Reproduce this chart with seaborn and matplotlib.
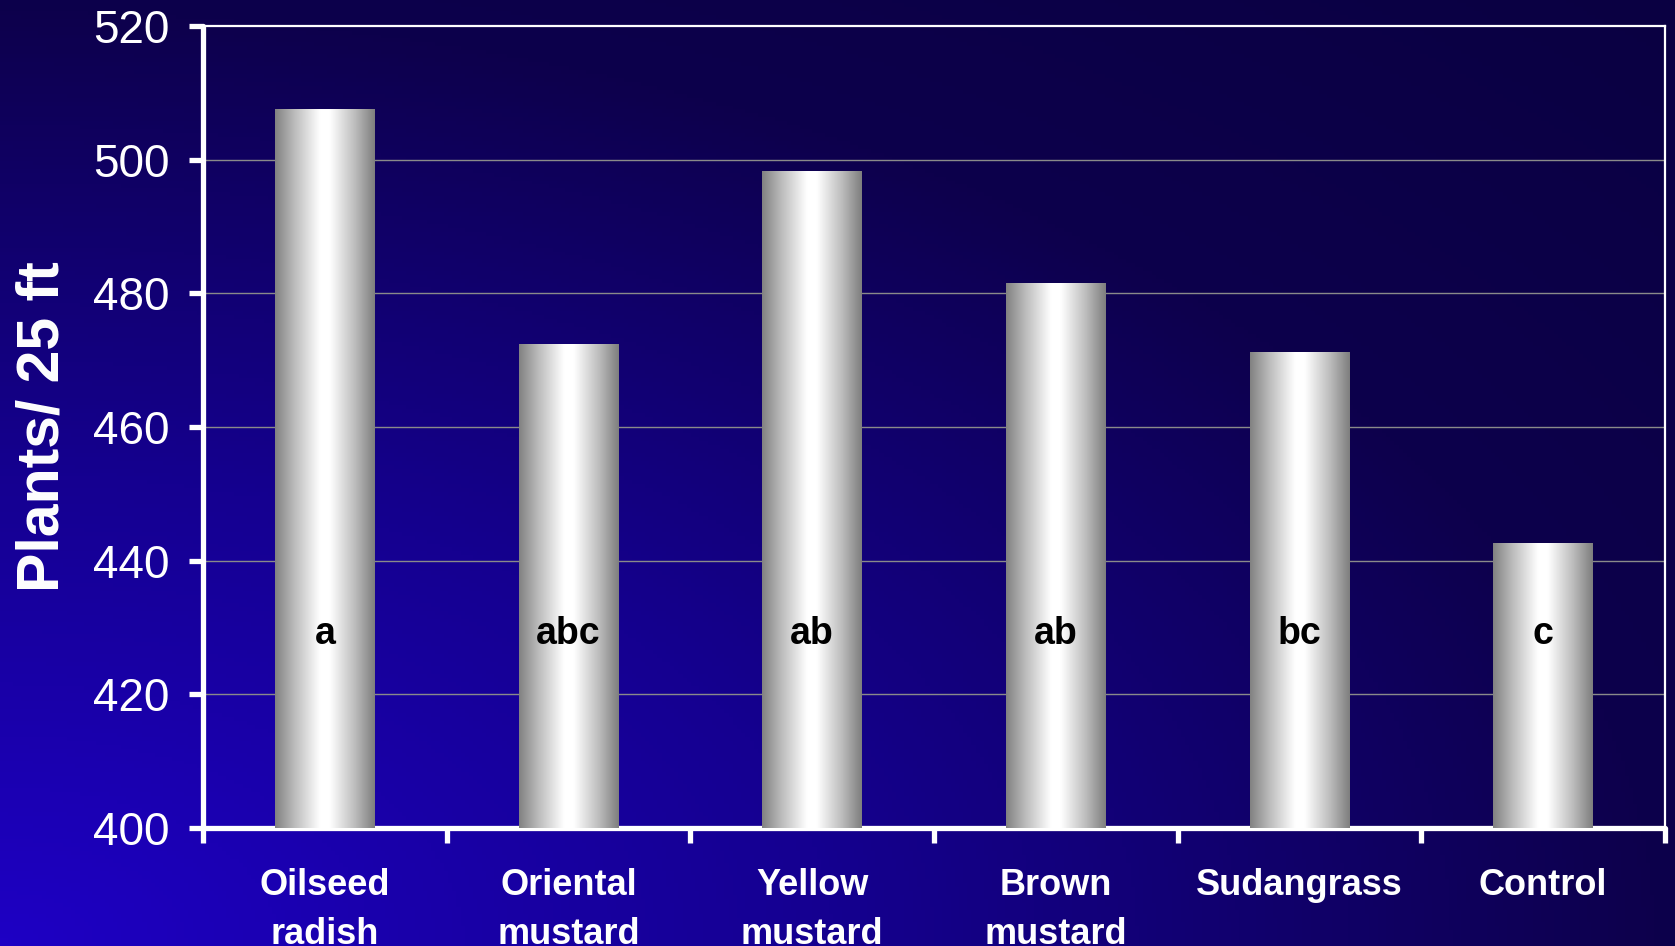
import numpy as np
import pandas as pd
import matplotlib
matplotlib.use("Agg")
import matplotlib.pyplot as plt
import seaborn as sns
from matplotlib.colors import LinearSegmentedColormap

# ---- data ----
categories = ["Oilseed\nradish", "Oriental\nmustard", "Yellow\nmustard",
              "Brown\nmustard", "Sudangrass", "Control"]
plants = [507.5, 472.4, 498.3, 481.5, 471.2, 442.6]
letters = ["a", "abc", "ab", "ab", "bc", "c"]
y_ticks = [400, 420, 440, 460, 480, 500, 520]
y_label = "Plants/ 25 ft"

df = pd.DataFrame({"treatment": categories, "plants": plants})

sns.set_theme(style="white")
plt.rcParams["font.family"] = ["Liberation Sans", "DejaVu Sans"]

W, H = 1675, 946
fig = plt.figure(figsize=(W / 100, H / 100), dpi=100)

# ---- background gradient (radial from bottom-left) ----
bg_ax = fig.add_axes([0, 0, 1, 1], zorder=-10)
bg_ax.set_axis_off()
xx, yy = np.meshgrid(np.linspace(0, 1, 400), np.linspace(0, 1, 240))
r = np.sqrt(xx ** 2 + yy ** 2) / np.sqrt(2)
bg_cmap = LinearSegmentedColormap.from_list(
    "bg", [(0.0, "#1e00c4"), (0.35, "#150090"), (0.7, "#0d004c"), (1.0, "#0a0042")])
bg_ax.imshow(r, cmap=bg_cmap, origin="lower", aspect="auto",
             extent=[0, 1, 0, 1], vmin=0, vmax=1)
bg_ax.set_xlim(0, 1)
bg_ax.set_ylim(0, 1)

# ---- main axes ----
ax = fig.add_axes([203 / W, 1 - 828 / H, (1665 - 203) / W, (828 - 26) / H])
ax.patch.set_alpha(0)

sns.barplot(data=df, x="treatment", y="plants", width=0.41, color="white",
            ax=ax, zorder=3, linewidth=0)

ymin, ymax = 400, 520
ax.set_ylim(ymin, ymax)
ax.set_xlim(-0.5, len(categories) - 0.5)
ax.set_yticks(y_ticks)
ax.set_yticklabels([str(v) for v in y_ticks])

# gradient on bars
bar_cmap = LinearSegmentedColormap.from_list(
    "bar", [(0.0, "#828282"), (0.2, "#bdbdbd"), (0.45, "#ffffff"),
            (0.55, "#ffffff"), (0.8, "#bdbdbd"), (1.0, "#7e7e7e")])
grad = np.linspace(0, 1, 256).reshape(1, -1)
for p in ax.patches:
    x0 = p.get_x()
    w = p.get_width()
    top = p.get_y() + p.get_height()
    ax.imshow(grad, cmap=bar_cmap, aspect="auto",
              extent=[x0, x0 + w, ymin, top], zorder=4)
ax.set_xlim(-0.5, len(categories) - 0.5)
ax.set_ylim(ymin, ymax)

# letters
for i, lab in enumerate(letters):
    ax.text(i, 429.0, lab, ha="center", va="center", fontsize=27,
            fontweight="bold", color="black", zorder=6)

# grid
for v in y_ticks[1:-1]:
    ax.axhline(v, color="#8a8a8a", linewidth=1.0, zorder=1)

# spines
for s in ["left", "bottom"]:
    ax.spines[s].set_color("white")
    ax.spines[s].set_linewidth(3.8)
    ax.spines[s].set_capstyle("round")
for s in ["top", "right"]:
    ax.spines[s].set_color("white")
    ax.spines[s].set_linewidth(1.6)

# ticks
ax.tick_params(axis="y", direction="out", length=10, width=3.8, color="white",
               labelcolor="white", labelsize=33, pad=14, left=True)
ax.set_xticks(np.arange(-0.5, len(categories), 1.0), minor=True)
ax.tick_params(axis="x", which="minor", direction="out", length=11, width=3.8,
               color="white", bottom=True)
ax.tick_params(axis="x", which="major", length=0, pad=29, labelcolor="white")
for lbl in ax.get_xticklabels():
    lbl.set_fontweight("bold")
    lbl.set_fontsize(26)
    lbl.set_linespacing(1.5)
    lbl.set_va("top")

ax.set_xlabel("")
ax.set_ylabel(y_label, color="white", fontsize=42.5, fontweight="bold", labelpad=16)
ax.grid(False)

fig.savefig("out.png", dpi=100)
